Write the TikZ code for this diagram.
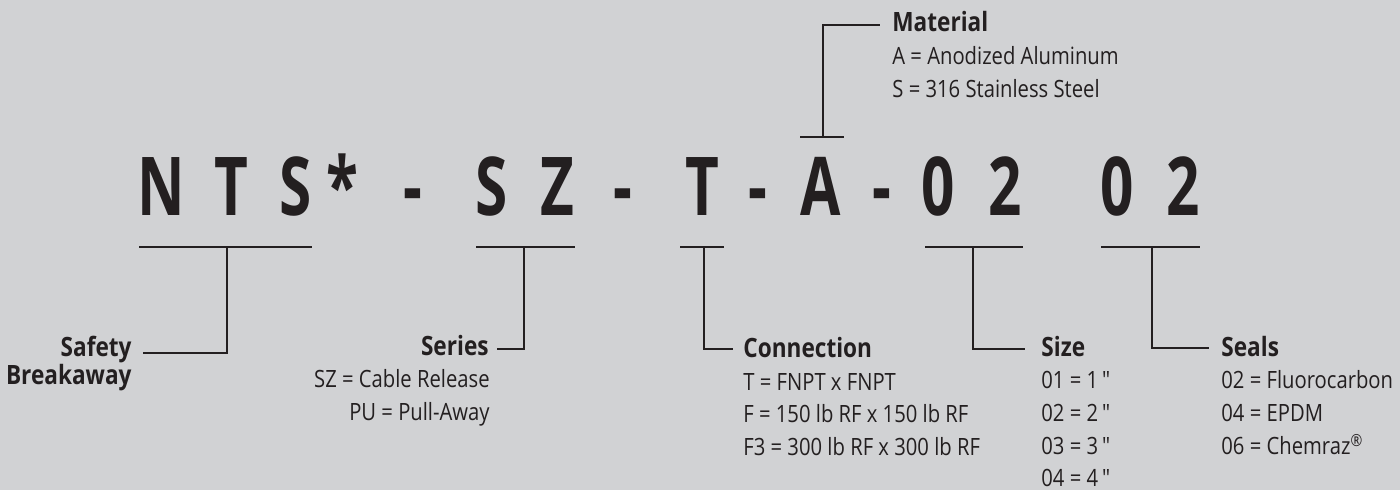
\documentclass[tikz,border=0pt]{standalone}
\usepackage{fontspec}
\setmainfont{Open Sans}[FakeStretch=0.85]
\newfontfamily\bigfont{Open Sans}[FakeStretch=0.72]
\newfontfamily\quotefont{Open Sans}[FakeStretch=0.85,Ligatures=TeXOff]
\definecolor{bg}{HTML}{D1D2D4}
\definecolor{ink}{HTML}{231F20}
\newcommand{\inchmark}{\,{\quotefont\fontsize{11.9}{14}\selectfont\char"22}}
\begin{document}
\begin{tikzpicture}[x=0.5pt,y=-0.5pt,
  big/.style={anchor=base,inner sep=0pt,text=ink,font=\bigfont\bfseries\fontsize{40.6}{44}\selectfont},
  head/.style={inner sep=0pt,text=ink,font=\bfseries\fontsize{13.3}{15}\selectfont},
  item/.style={inner sep=0pt,text=ink,font=\fontsize{11.9}{14}\selectfont},
  conn/.style={draw=ink,line width=1.1pt,miter limit=10}]
\fill[bg] (0,0) rectangle (1400,490);
\useasboundingbox (0,0) rectangle (1400,490);
% big code characters
\node[big] (cN)  at (161.5,216) {N};
\node[big] (cT1) at (231,216) {T};
\node[big] (cS1) at (295.5,216) {S};
\node[big] (cAst) at (342.5,216) {*};
\node[big] (d1)  at (413,216) {-};
\node[big] (cS2) at (492,216) {S};
\node[big] (cZ)  at (557.5,216) {Z};
\node[big] (d2)  at (623,216) {-};
\node[big] (cT2) at (702,216) {T};
\node[big] (d3)  at (758,216) {-};
\node[big] (cA)  at (820.5,216) {A};
\node[big] (d4)  at (882,216) {-};
\node[big] (c01) at (938.5,216) {0};
\node[big] (c02) at (1005,216) {2};
\node[big] (c03) at (1117,216) {0};
\node[big] (c04) at (1183.5,216) {2};
% Material
\node[head,anchor=base west] (mat) at (892,32) {Material};
\node[item,anchor=base west] (mat1) at (892,65) {A = Anodized Aluminum};
\node[item,anchor=base west] (mat2) at (892,98) {S = 316 Stainless Steel};
% Safety Breakaway
\node[head,anchor=base east] (saf1) at (132,357) {Safety};
\node[head,anchor=base east] (saf2) at (132,385) {Breakaway};
% Series
\node[head,anchor=base east] (ser) at (489,356) {Series};
\node[item,anchor=base east] (ser1) at (490,388) {SZ = Cable Release};
\node[item,anchor=base east] (ser2) at (490,421) {PU = Pull-Away};
% Connection
\node[head,anchor=base west] (con) at (743,358) {Connection};
\node[item,anchor=base west] (con1) at (743,391) {T = FNPT x FNPT};
\node[item,anchor=base west] (con2) at (743,423) {F = 150 lb RF x 150 lb RF};
\node[item,anchor=base west] (con3) at (743,456) {F3 = 300 lb RF x 300 lb RF};
% Size
\node[head,anchor=base west] (siz) at (1041,357) {Size};
\node[item,anchor=base west] (siz1) at (1041,389) {01 = 1\inchmark};
\node[item,anchor=base west] (siz2) at (1041,422) {02 = 2\inchmark};
\node[item,anchor=base west] (siz3) at (1041,455) {03 = 3\inchmark};
\node[item,anchor=base west] (siz4) at (1041,487) {04 = 4\inchmark};
% Seals
\node[head,anchor=base west] (sea) at (1221,357) {Seals};
\node[item,anchor=base west] (sea1) at (1221,389) {02 = Fluorocarbon};
\node[item,anchor=base west] (sea2) at (1221,422) {04 = EPDM};
\node[item,anchor=base west] (sea3) at (1221,455) {06 = Chemraz\textsuperscript{®}};
% connector coordinates
\coordinate (mL) at (800,137); \coordinate (mR) at (844,137); \coordinate (mM) at (823,137);
\coordinate (mE) at (880,25);
\coordinate (b1L) at (139,247); \coordinate (b1R) at (312,247); \coordinate (b1M) at (227,247);
\coordinate (b1E) at (143,353);
\coordinate (b2L) at (476,247); \coordinate (b2R) at (575,247); \coordinate (b2M) at (524,247);
\coordinate (b2E) at (497,349);
\coordinate (b3L) at (680,247); \coordinate (b3R) at (724,247); \coordinate (b3M) at (704,247);
\coordinate (b3E) at (733,349);
\coordinate (b4L) at (925,247); \coordinate (b4R) at (1023,247); \coordinate (b4M) at (973,247);
\coordinate (b4E) at (1025,349);
\coordinate (b5L) at (1101,247); \coordinate (b5R) at (1200,247); \coordinate (b5M) at (1152,247);
\coordinate (b5E) at (1209,348);
% connectors
\draw[conn] (mL) -- (mR);
\draw[conn] (mM) |- (mE);
\draw[conn] (b1L) -- (b1R);
\draw[conn] (b1M) |- (b1E);
\draw[conn] (b2L) -- (b2R);
\draw[conn] (b2M) |- (b2E);
\draw[conn] (b3L) -- (b3R);
\draw[conn] (b3M) |- (b3E);
\draw[conn] (b4L) -- (b4R);
\draw[conn] (b4M) |- (b4E);
\draw[conn] (b5L) -- (b5R);
\draw[conn] (b5M) |- (b5E);
\end{tikzpicture}
\end{document}
